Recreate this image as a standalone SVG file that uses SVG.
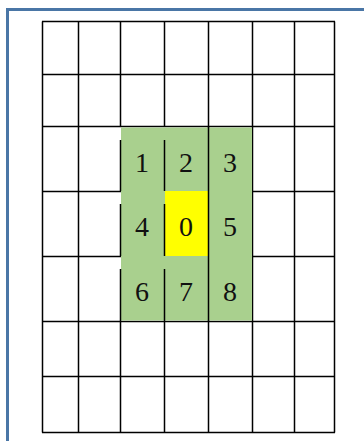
<svg xmlns="http://www.w3.org/2000/svg" width="364" height="441" viewBox="0 0 364 441">
<style>
.frame{fill:none;stroke:#4a76a6;stroke-width:3}
.grid{stroke:#000;stroke-width:1.5;fill:none}
.g{fill:#a9d08e}
.y{fill:#ffff00}
.t{font-family:"Liberation Serif","Times New Roman",serif;font-size:28px;fill:#111;text-anchor:middle}
</style>
<rect width="364" height="441" fill="#fff"/>
<rect class="frame" x="7.5" y="9.5" width="400" height="480"/>
<g id="grid">
<path class="grid" d="M42.5,21.5V432.5M78.5,21.5V432.5M294.5,21.5V432.5M334.5,21.5V432.5M120.5,21.5V127M164.5,21.5V127M208.5,21.5V432.5M252.5,21.5V432.5M120.5,321V432.5M164.5,321V432.5M42,21.5H335M42,74.5H335M42,126.5H335M42,191.5H121M252,191.5H335M42,256.5H121M252,256.5H335M42,321.5H335M42,376.5H335M42,432.5H335"/>
</g>
<g id="cells">
<rect class="g" x="121" y="127.5" width="131" height="193"/>
<rect class="y" x="165" y="191" width="43" height="65"/>
<path class="grid" d="M120.5,140V191M164.5,140V191M120.5,204V256M164.5,204V256M120.5,269V321M164.5,269V321M208.5,126V321"/>
</g>
<g id="n1"><text class="t" x="142" y="172">1</text></g>
<g id="n2"><text class="t" x="186" y="172">2</text></g>
<g id="n3"><text class="t" x="230" y="172">3</text></g>
<g id="n4"><text class="t" x="142" y="236">4</text></g>
<g id="n0"><text class="t" x="186" y="236">0</text></g>
<g id="n5"><text class="t" x="230" y="236">5</text></g>
<g id="n6"><text class="t" x="142" y="301">6</text></g>
<g id="n7"><text class="t" x="186" y="301">7</text></g>
<g id="n8"><text class="t" x="230" y="301">8</text></g>
</svg>
